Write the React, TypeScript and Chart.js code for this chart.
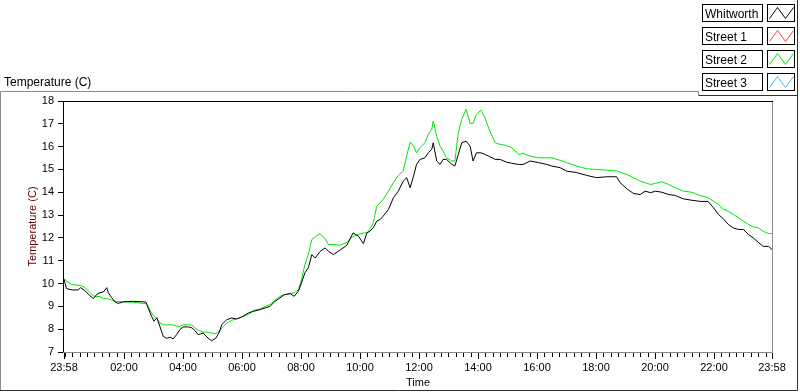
import React, { useEffect, useRef } from "react";
import { Chart, registerables } from "chart.js";

Chart.register(...registerables);

// minutes after the 23:58 start of the record
const minutes = [
  0, 5, 16, 29, 34, 43, 53, 60, 67, 73, 80, 87, 90, 97, 104, 110, 121, 141, 161, 167,
  171, 178, 183, 189, 195, 202, 209, 216, 222, 229, 236, 243, 253, 260, 266, 273, 283, 293, 300, 309,
  315, 321, 331, 341, 351, 361, 375, 385, 399, 409, 419, 429, 439, 448, 460, 468, 477, 483, 490, 497,
  504, 511, 521, 531, 538, 548, 561, 575, 588, 599, 609, 616, 622, 629, 636, 643, 649, 660, 670, 680,
  690, 697, 704, 711, 717, 724, 734, 741, 748, 751, 758, 765, 771, 778, 789, 795, 802, 809, 818, 826,
  832, 839, 848, 856, 866, 877, 887, 900, 911, 924, 934, 948, 965, 982, 992, 1009, 1022, 1043, 1063, 1083,
  1104, 1124, 1131, 1145, 1158, 1172, 1182, 1193, 1203, 1216, 1230, 1243, 1260, 1277, 1294, 1310, 1321, 1331, 1341, 1351,
  1361, 1372, 1382, 1392, 1402, 1412, 1422, 1433, 1440,
];

const whitworth = [
  10.19, 9.78, 9.72, 9.72, 9.82, 9.68, 9.46, 9.34, 9.53, 9.6, 9.63, 9.82, 9.6, 9.38, 9.19, 9.13, 9.2, 9.22, 9.2, 9.18,
  8.94, 8.57, 8.35, 8.5, 8.12, 7.68, 7.6, 7.65, 7.57, 7.76, 7.99, 8.1, 8.1, 8.06, 7.95, 7.76, 7.83, 7.61, 7.49, 7.61,
  7.83, 8.2, 8.42, 8.49, 8.45, 8.53, 8.71, 8.78, 8.86, 8.93, 9.0, 9.22, 9.37, 9.51, 9.56, 9.44, 9.67, 10.03, 10.47, 10.69,
  11.27, 11.12, 11.41, 11.56, 11.41, 11.27, 11.46, 11.67, 12.22, 12.07, 11.75, 12.22, 12.29, 12.44, 12.73, 12.81, 12.95, 13.25, 13.76, 14.05,
  14.49, 14.64, 14.2, 14.71, 15.22, 15.44, 15.51, 15.73, 15.88, 16.17, 15.37, 15.22, 15.44, 15.44, 15.22, 15.15, 15.66, 16.17, 16.24, 16.02,
  15.37, 15.73, 15.73, 15.66, 15.56, 15.44, 15.44, 15.32, 15.27, 15.22, 15.22, 15.37, 15.3, 15.22, 15.15, 15.08, 14.93, 14.86, 14.74, 14.64,
  14.68, 14.68, 14.42, 14.15, 13.95, 13.9, 14.05, 13.98, 14.05, 14.0, 13.9, 13.86, 13.71, 13.65, 13.6, 13.6, 13.32, 13.03, 12.84, 12.59,
  12.44, 12.37, 12.37, 12.15, 12.0, 11.81, 11.63, 11.63, 11.49,
];

const street1: number[] = [];

const street2 = [
  10.22, 10.1, 9.95, 9.93, 9.92, 9.82, 9.6, 9.46, 9.43, 9.43, 9.34, 9.34, 9.32, 9.28, 9.21, 9.21, 9.2, 9.18, 9.13, 9.13,
  9.01, 8.72, 8.57, 8.46, 8.28, 8.19, 8.19, 8.19, 8.19, 8.13, 8.13, 8.19, 8.19, 8.19, 8.06, 7.96, 7.87, 7.87, 7.83, 7.8,
  7.9, 8.05, 8.27, 8.39, 8.45, 8.53, 8.64, 8.82, 8.89, 9.0, 9.08, 9.26, 9.44, 9.51, 9.56, 9.59, 9.73, 10.17, 10.83, 11.27,
  11.93, 12.05, 12.18, 11.96, 11.71, 11.71, 11.68, 11.8, 12.07, 12.15, 12.22, 12.22, 12.37, 12.66, 13.39, 13.54, 13.68, 14.05, 14.42, 14.74,
  14.93, 15.59, 16.2, 16.02, 15.73, 15.95, 16.17, 16.54, 16.76, 17.12, 16.46, 16.02, 15.8, 15.51, 15.37, 15.37, 16.61, 17.2, 17.64, 17.02,
  17.02, 17.42, 17.6, 17.27, 16.68, 16.17, 16.1, 16.05, 15.95, 15.66, 15.7, 15.59, 15.51, 15.51, 15.51, 15.4, 15.3, 15.15, 15.03, 15.0,
  14.97, 14.93, 14.88, 14.78, 14.64, 14.49, 14.42, 14.34, 14.39, 14.46, 14.34, 14.2, 14.05, 14.0, 13.86, 13.76, 13.61, 13.47, 13.25, 13.17,
  13.03, 12.88, 12.73, 12.59, 12.49, 12.44, 12.29, 12.19, 12.19,
];

const street3: number[] = [];

const seriesNames = ["Whitworth", "Street 1", "Street 2", "Street 3"];
const seriesColors = ["#000000", "#ff4040", "#00e600", "#40b8ff"];

const xLabelValues = [0, 122, 242, 362, 482, 602, 722, 842, 962, 1082, 1202, 1322, 1440];
const xLabels = ["23:58", "02:00", "04:00", "06:00", "08:00", "10:00", "12:00", "14:00", "16:00", "18:00", "20:00", "22:00", "23:58"];
const minorTickStart = 2;
const minorTickStep = 15;

const yMin = 7;
const yMax = 18;

const chartTitle = "Temperature (C)";
const yAxisTitle = "Temperature (C)";
const xAxisTitle = "Time";

const FONT = '"Liberation Sans", Arial, sans-serif';

function allXTicks(): number[] {
  const set = new Set<number>(xLabelValues);
  for (let v = minorTickStart; v < 1440; v += minorTickStep) set.add(v);
  return Array.from(set).sort((a, b) => a - b);
}

const framePlugin = {
  id: "labviewFrame",
  afterDraw(chart: any) {
    const ctx: CanvasRenderingContext2D = chart.ctx;
    const { left, top, right, bottom } = chart.chartArea;
    const xs = chart.scales.x;
    ctx.save();
    ctx.lineWidth = 1;

    // plot frame
    ctx.strokeStyle = "#000000";
    ctx.beginPath();
    ctx.moveTo(left - 0.5, bottom + 1);
    ctx.lineTo(left - 0.5, top + 0.5);
    ctx.lineTo(right + 1, top + 0.5);
    ctx.stroke();
    ctx.strokeStyle = "#8a8a8a";
    ctx.beginPath();
    ctx.moveTo(right + 0.5, top + 1);
    ctx.lineTo(right + 0.5, bottom + 0.5);
    ctx.lineTo(left - 1, bottom + 0.5);
    ctx.stroke();

    // x tick marks
    ctx.strokeStyle = "#000000";
    for (const t of xs.ticks) {
      const px = Math.round(xs.getPixelForValue(t.value)) + 0.5;
      const major = xLabelValues.indexOf(t.value) >= 0;
      ctx.beginPath();
      ctx.moveTo(px, bottom + 1);
      ctx.lineTo(px, bottom + 1 + (major ? 6 : 4));
      ctx.stroke();
    }

    // outer frame
    ctx.strokeStyle = "#8a8a8a";
    ctx.beginPath();
    ctx.moveTo(0.5, 390);
    ctx.lineTo(0.5, 91.5);
    ctx.lineTo(698.5, 91.5);
    ctx.lineTo(698.5, 95.5);
    ctx.stroke();
    ctx.strokeStyle = "#303030";
    ctx.beginPath();
    ctx.moveTo(698.5, 95.5);
    ctx.lineTo(797.5, 95.5);
    ctx.moveTo(797.5, 0);
    ctx.lineTo(797.5, 390.5);
    ctx.lineTo(0, 390.5);
    ctx.stroke();

    // header
    ctx.fillStyle = "#000000";
    ctx.font = "12px " + FONT;
    ctx.textAlign = "left";
    ctx.textBaseline = "alphabetic";
    ctx.fillText(chartTitle, 4, 86);

    // legend
    chart.data.datasets.forEach((ds: any, i: number) => {
      const y0 = 4 + i * 23;
      const h = 17;
      ctx.strokeStyle = "#000000";
      ctx.strokeRect(702.5, y0 + 0.5, 60, h);
      ctx.strokeRect(767.5, y0 + 0.5, 27, h);
      ctx.fillStyle = "#000000";
      ctx.fillText(ds.label, 705, y0 + 13.5);
      ctx.strokeStyle = ds.borderColor;
      ctx.beginPath();
      ctx.moveTo(769.5, y0 + 14.5);
      ctx.lineTo(777.5, y0 + 3.5);
      ctx.lineTo(785.5, y0 + 14.5);
      ctx.lineTo(793.5, y0 + 3.5);
      ctx.stroke();
    });

    ctx.restore();
  },
};

export default function App() {
  const ref = useRef<HTMLCanvasElement>(null);

  useEffect(() => {
    const canvas = ref.current;
    if (!canvas) return;
    const toPts = (arr: number[]) => arr.map((v, i) => ({ x: minutes[i], y: v }));
    const chart = new Chart(canvas, {
      type: "line",
      data: {
        datasets: [
          { label: seriesNames[0], data: toPts(whitworth), borderColor: seriesColors[0], borderWidth: 1, pointRadius: 0, tension: 0, fill: false },
          { label: seriesNames[1], data: toPts(street1), borderColor: seriesColors[1], borderWidth: 1, pointRadius: 0, tension: 0, fill: false },
          { label: seriesNames[2], data: toPts(street2), borderColor: seriesColors[2], borderWidth: 1, pointRadius: 0, tension: 0, fill: false },
          { label: seriesNames[3], data: toPts(street3), borderColor: seriesColors[3], borderWidth: 1, pointRadius: 0, tension: 0, fill: false },
        ],
      },
      options: {
        responsive: false,
        devicePixelRatio: 1,
        animation: false,
        events: [],
        layout: { padding: { top: 101, right: 28, bottom: 0, left: 0 } },
        plugins: { legend: { display: false }, tooltip: { enabled: false }, title: { display: false } },
        scales: {
          x: {
            type: "linear",
            min: 0,
            max: 1440,
            afterFit: (s: any) => { s.height = 40; },
            afterBuildTicks: (s: any) => { s.ticks = allXTicks().map((v) => ({ value: v })); },
            grid: { display: false, drawTicks: false },
            border: { display: false },
            ticks: {
              autoSkip: false,
              maxRotation: 0,
              minRotation: 0,
              padding: 9,
              color: "#000000",
              font: { family: FONT, size: 11 },
              callback: (v: any) => {
                const i = xLabelValues.indexOf(Number(v));
                return i >= 0 ? xLabels[i] : "";
              },
            },
            title: {
              display: true,
              text: xAxisTitle,
              color: "#000000",
              font: { family: FONT, size: 11 },
              padding: { top: 0, bottom: 2 },
            },
          },
          y: {
            type: "linear",
            min: yMin,
            max: yMax,
            afterFit: (s: any) => { s.width = 64; },
            grid: { display: true, drawOnChartArea: false, drawTicks: true, tickLength: 6, color: "#000000" },
            border: { display: false },
            ticks: {
              stepSize: 1,
              padding: 4,
              color: "#000000",
              font: { family: FONT, size: 11 },
            },
            title: {
              display: true,
              text: yAxisTitle,
              color: "#5a0000",
              font: { family: FONT, size: 11 },
              padding: { top: 26, bottom: 0 },
            },
          },
        },
      },
      plugins: [framePlugin],
    } as any);
    return () => chart.destroy();
  }, []);

  return (
    <div style={{ position: "absolute", left: 0, top: 0, width: 800, height: 392, background: "#ffffff" }}>
      <canvas ref={ref} width={800} height={392} style={{ display: "block", width: 800, height: 392 }} />
    </div>
  );
}
